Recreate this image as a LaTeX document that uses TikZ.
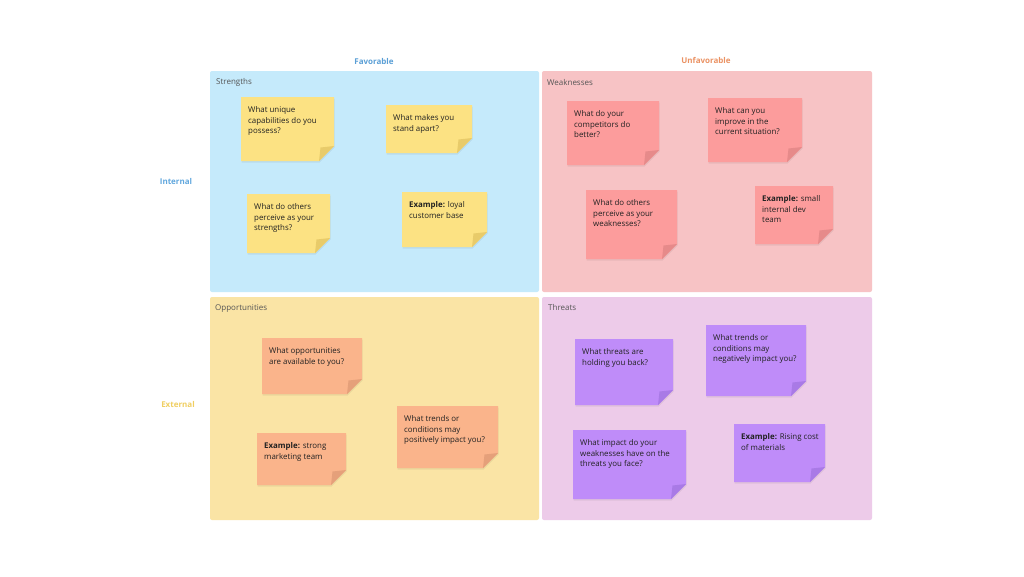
\documentclass[tikz,border=0pt]{standalone}
\usepackage{fontspec}
\setmainfont{Open Sans}
\definecolor{bgS}{HTML}{C5EAFB}
\definecolor{bgW}{HTML}{F7C3C5}
\definecolor{bgO}{HTML}{FAE4A5}
\definecolor{bgT}{HTML}{EDCBE9}
\definecolor{nY}{HTML}{FCE283}
\definecolor{nYf}{HTML}{E8CB6A}
\definecolor{nR}{HTML}{FC9C9C}
\definecolor{nRf}{HTML}{E68A8A}
\definecolor{nO}{HTML}{FAB48B}
\definecolor{nOf}{HTML}{E5A07A}
\definecolor{nP}{HTML}{BF8CF9}
\definecolor{nPf}{HTML}{A97AE6}
\definecolor{cFav}{HTML}{5A9FD6}
\definecolor{cUnf}{HTML}{EB9263}
\definecolor{cInt}{HTML}{62A8DE}
\definecolor{cExt}{HTML}{F0CF62}
\definecolor{ttl}{HTML}{555555}
\definecolor{ntext}{HTML}{222222}
\tikzset{
  axislabel/.style={font=\fontsize{8}{9}\selectfont\bfseries, inner sep=0pt},
  quadtitle/.style={font=\fontsize{8}{9}\selectfont, text=ttl, anchor=west, inner sep=0pt},
  notetext/.style={font=\fontsize{7.9}{10.8}\selectfont, text=ntext, anchor=north west, inner sep=0pt, align=left},
  quad/.style={rounded corners=2pt}
}
% name, left, top, right, bottom, colour, fold colour, text
\newcommand\stickynote[8]{%
  \fill[black, opacity=0.06] (#2+0.5,#3+1.5) -- (#4+0.5,#3+1.5) -- (#4+0.5,#5-13.5) -- (#4-14.5,#5+1.5) -- (#2+0.5,#5+1.5) -- cycle;
  \fill[#6] (#2,#3) -- (#4,#3) -- (#4,#5-15) -- (#4-15,#5) -- (#2,#5) -- cycle;
  \fill[#7] (#4-15,#5) .. controls (#4-14,#5-7) .. (#4-13.5,#5-13.5) .. controls (#4-7,#5-14) .. (#4,#5-15) -- cycle;
  \node[notetext] (#1) at (#2+7,#3+9) {#8};
}
\begin{document}
\begin{tikzpicture}[x=1pt,y=-1pt]
\useasboundingbox (0,0) rectangle (1024,576);
\fill[white] (0,0) rectangle (1024,576);

% quadrants
\fill[bgS, quad] (210,71) rectangle (539,292);
\fill[bgW, quad] (542,71) rectangle (872,292);
\fill[bgO, quad] (210,297) rectangle (539,520);
\fill[bgT, quad] (542,297) rectangle (872,520);

% axis labels
\node[axislabel, text=cFav] (fav) at (374,61.5) {Favorable};
\node[axislabel, text=cUnf] (unf) at (706,60.5) {Unfavorable};
\node[axislabel, text=cInt] (int) at (176,181.5) {Internal};
\node[axislabel, text=cExt] (ext) at (178,404.5) {External};

% quadrant titles
\node[quadtitle] (tS) at (216,82.5) {Strengths};
\node[quadtitle] (tW) at (547,82.5) {Weaknesses};
\node[quadtitle] (tO) at (215,308.5) {Opportunities};
\node[quadtitle] (tT) at (548,307.5) {Threats};

% Strengths
\stickynote{s1}{241}{97}{334}{161}{nY}{nYf}{What unique\\capabilities do you\\possess?}
\stickynote{s2}{386}{105}{472}{153}{nY}{nYf}{What makes you\\stand apart?}
\stickynote{s3}{247}{194}{330}{253}{nY}{nYf}{What do others\\perceive as your\\strengths?}
\stickynote{s4}{402}{192}{487}{247}{nY}{nYf}{\textbf{Example:} loyal\\customer base}

% Weaknesses
\stickynote{w1}{567}{101}{659}{165}{nR}{nRf}{What do your\\competitors do\\better?}
\stickynote{w2}{708}{98}{802}{162}{nR}{nRf}{What can you\\improve in the\\current situation?}
\stickynote{w3}{586}{190}{677}{259}{nR}{nRf}{What do others\\perceive as your\\weaknesses?}
\stickynote{w4}{755}{186}{833}{244}{nR}{nRf}{\textbf{Example:} small\\internal dev\\team}

% Opportunities
\stickynote{o1}{262}{338}{362}{394}{nO}{nOf}{What opportunities\\are available to you?}
\stickynote{o2}{397}{406}{498}{468}{nO}{nOf}{What trends or\\conditions may\\positively impact you?}
\stickynote{o3}{257}{433}{346}{485}{nO}{nOf}{\textbf{Example:} strong\\marketing team}

% Threats
\stickynote{t1}{575}{339}{673}{405}{nP}{nPf}{What threats are\\holding you back?}
\stickynote{t2}{706}{325}{806}{396}{nP}{nPf}{What trends or\\conditions may\\negatively impact you?}
\stickynote{t3}{573}{430}{686}{499}{nP}{nPf}{What impact do your\\weaknesses have on the\\threats you face?}
\stickynote{t4}{734}{424}{825}{482}{nP}{nPf}{\textbf{Example:} Rising cost\\of materials}
\end{tikzpicture}
\end{document}
